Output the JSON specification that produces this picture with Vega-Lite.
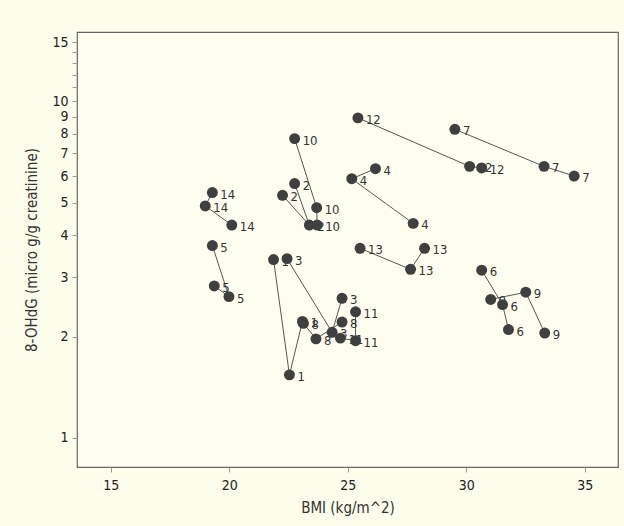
{
  "$schema": "https://vega.github.io/schema/vega-lite/v6.json",
  "autosize": "none",
  "width": 541,
  "height": 435,
  "padding": {"left": 77, "top": 32, "right": 6, "bottom": 59},
  "background": "#fdfdec",
  "config": {
    "view": {"stroke": "#666", "strokeWidth": 1.2, "fill": "#fefef0"},
    "font": "'Liberation Sans Narrow', 'DejaVu Sans Condensed', 'Liberation Sans', sans-serif",
    "text": {"font": "'Liberation Sans Narrow', 'DejaVu Sans Condensed', 'Liberation Sans', sans-serif"},
    "axis": {"labelFont": "'Liberation Sans Narrow', 'DejaVu Sans Condensed', 'Liberation Sans', sans-serif", "titleFont": "'Liberation Sans Narrow', 'DejaVu Sans Condensed', 'Liberation Sans', sans-serif", "labelColor": "#222", "titleColor": "#333", "domain": false, "grid": false, "tickColor": "#999"}
  },
  "data": {"values": [
    {"s": 1, "t": 1, "bmi": 21.87, "ohdg": 3.39},
    {"s": 1, "t": 2, "bmi": 22.54, "ohdg": 1.54},
    {"s": 1, "t": 3, "bmi": 23.09, "ohdg": 2.22},
    {"s": 2, "t": 1, "bmi": 22.76, "ohdg": 5.70},
    {"s": 2, "t": 2, "bmi": 23.38, "ohdg": 4.29},
    {"s": 2, "t": 3, "bmi": 22.25, "ohdg": 5.26},
    {"s": 3, "t": 1, "bmi": 22.44, "ohdg": 3.41},
    {"s": 3, "t": 2, "bmi": 24.34, "ohdg": 2.06},
    {"s": 3, "t": 3, "bmi": 24.76, "ohdg": 2.60},
    {"s": 4, "t": 1, "bmi": 26.17, "ohdg": 6.31},
    {"s": 4, "t": 2, "bmi": 25.17, "ohdg": 5.89},
    {"s": 4, "t": 3, "bmi": 27.76, "ohdg": 4.34},
    {"s": 5, "t": 1, "bmi": 19.29, "ohdg": 3.73},
    {"s": 5, "t": 2, "bmi": 19.99, "ohdg": 2.63},
    {"s": 5, "t": 3, "bmi": 19.37, "ohdg": 2.83},
    {"s": 6, "t": 1, "bmi": 30.65, "ohdg": 3.15},
    {"s": 6, "t": 2, "bmi": 31.53, "ohdg": 2.49},
    {"s": 6, "t": 3, "bmi": 31.78, "ohdg": 2.10},
    {"s": 7, "t": 1, "bmi": 29.52, "ohdg": 8.26},
    {"s": 7, "t": 2, "bmi": 33.28, "ohdg": 6.41},
    {"s": 7, "t": 3, "bmi": 34.55, "ohdg": 6.00},
    {"s": 8, "t": 1, "bmi": 23.13, "ohdg": 2.19},
    {"s": 8, "t": 2, "bmi": 23.66, "ohdg": 1.97},
    {"s": 8, "t": 3, "bmi": 24.76, "ohdg": 2.21},
    {"s": 9, "t": 1, "bmi": 31.03, "ohdg": 2.58},
    {"s": 9, "t": 2, "bmi": 32.51, "ohdg": 2.71},
    {"s": 9, "t": 3, "bmi": 33.31, "ohdg": 2.05},
    {"s": 10, "t": 1, "bmi": 22.76, "ohdg": 7.75},
    {"s": 10, "t": 2, "bmi": 23.69, "ohdg": 4.83},
    {"s": 10, "t": 3, "bmi": 23.71, "ohdg": 4.29},
    {"s": 11, "t": 1, "bmi": 24.69, "ohdg": 1.98},
    {"s": 11, "t": 2, "bmi": 25.33, "ohdg": 1.945},
    {"s": 11, "t": 3, "bmi": 25.33, "ohdg": 2.37},
    {"s": 12, "t": 1, "bmi": 25.43, "ohdg": 8.93},
    {"s": 12, "t": 2, "bmi": 30.14, "ohdg": 6.41},
    {"s": 12, "t": 3, "bmi": 30.65, "ohdg": 6.34},
    {"s": 13, "t": 1, "bmi": 25.52, "ohdg": 3.66},
    {"s": 13, "t": 2, "bmi": 27.65, "ohdg": 3.17},
    {"s": 13, "t": 3, "bmi": 28.24, "ohdg": 3.66},
    {"s": 14, "t": 1, "bmi": 19.29, "ohdg": 5.36},
    {"s": 14, "t": 2, "bmi": 18.99, "ohdg": 4.89},
    {"s": 14, "t": 3, "bmi": 20.11, "ohdg": 4.29}
  ]},
  "encoding": {
    "x": {"field": "bmi", "type": "quantitative",
      "scale": {"domain": [13.58, 36.4], "nice": false, "zero": false},
      "axis": {"title": "BMI (kg/m^2)", "values": [15, 20, 25, 30, 35], "labelFontSize": 14, "titleFontSize": 15, "titleFontWeight": "normal", "tickSize": 5, "labelPadding": 6, "titlePadding": 8}},
    "y": {"field": "ohdg", "type": "quantitative",
      "scale": {"type": "log", "domain": [0.82, 16.07], "nice": false},
      "axis": {"title": "8-OHdG (micro g/g creatinine)", "values": [1, 2, 3, 4, 5, 6, 7, 8, 9, 10, 11, 12, 13, 14, 15],
        "labelExpr": "indexof([1,2,3,4,5,6,7,8,9,10,15], datum.value) >= 0 ? datum.label : ''",
        "labelFontSize": 14, "titleFontSize": 15, "titleFontWeight": "normal", "tickSize": 5, "labelPadding": 4, "titlePadding": 12}}
  },
  "layer": [
    {"mark": {"type": "line", "color": "#555", "strokeWidth": 1}, "encoding": {"detail": {"field": "s"}, "order": {"field": "t"}}},
    {"mark": {"type": "text", "align": "left", "baseline": "middle", "dx": 8, "dy": 2, "fontSize": 13, "color": "#333"}, "encoding": {"text": {"field": "s", "type": "nominal"}}},
    {"mark": {"type": "point", "filled": true, "shape": "circle", "size": 120, "color": "#3f3f3f", "opacity": 1}}
  ]
}
